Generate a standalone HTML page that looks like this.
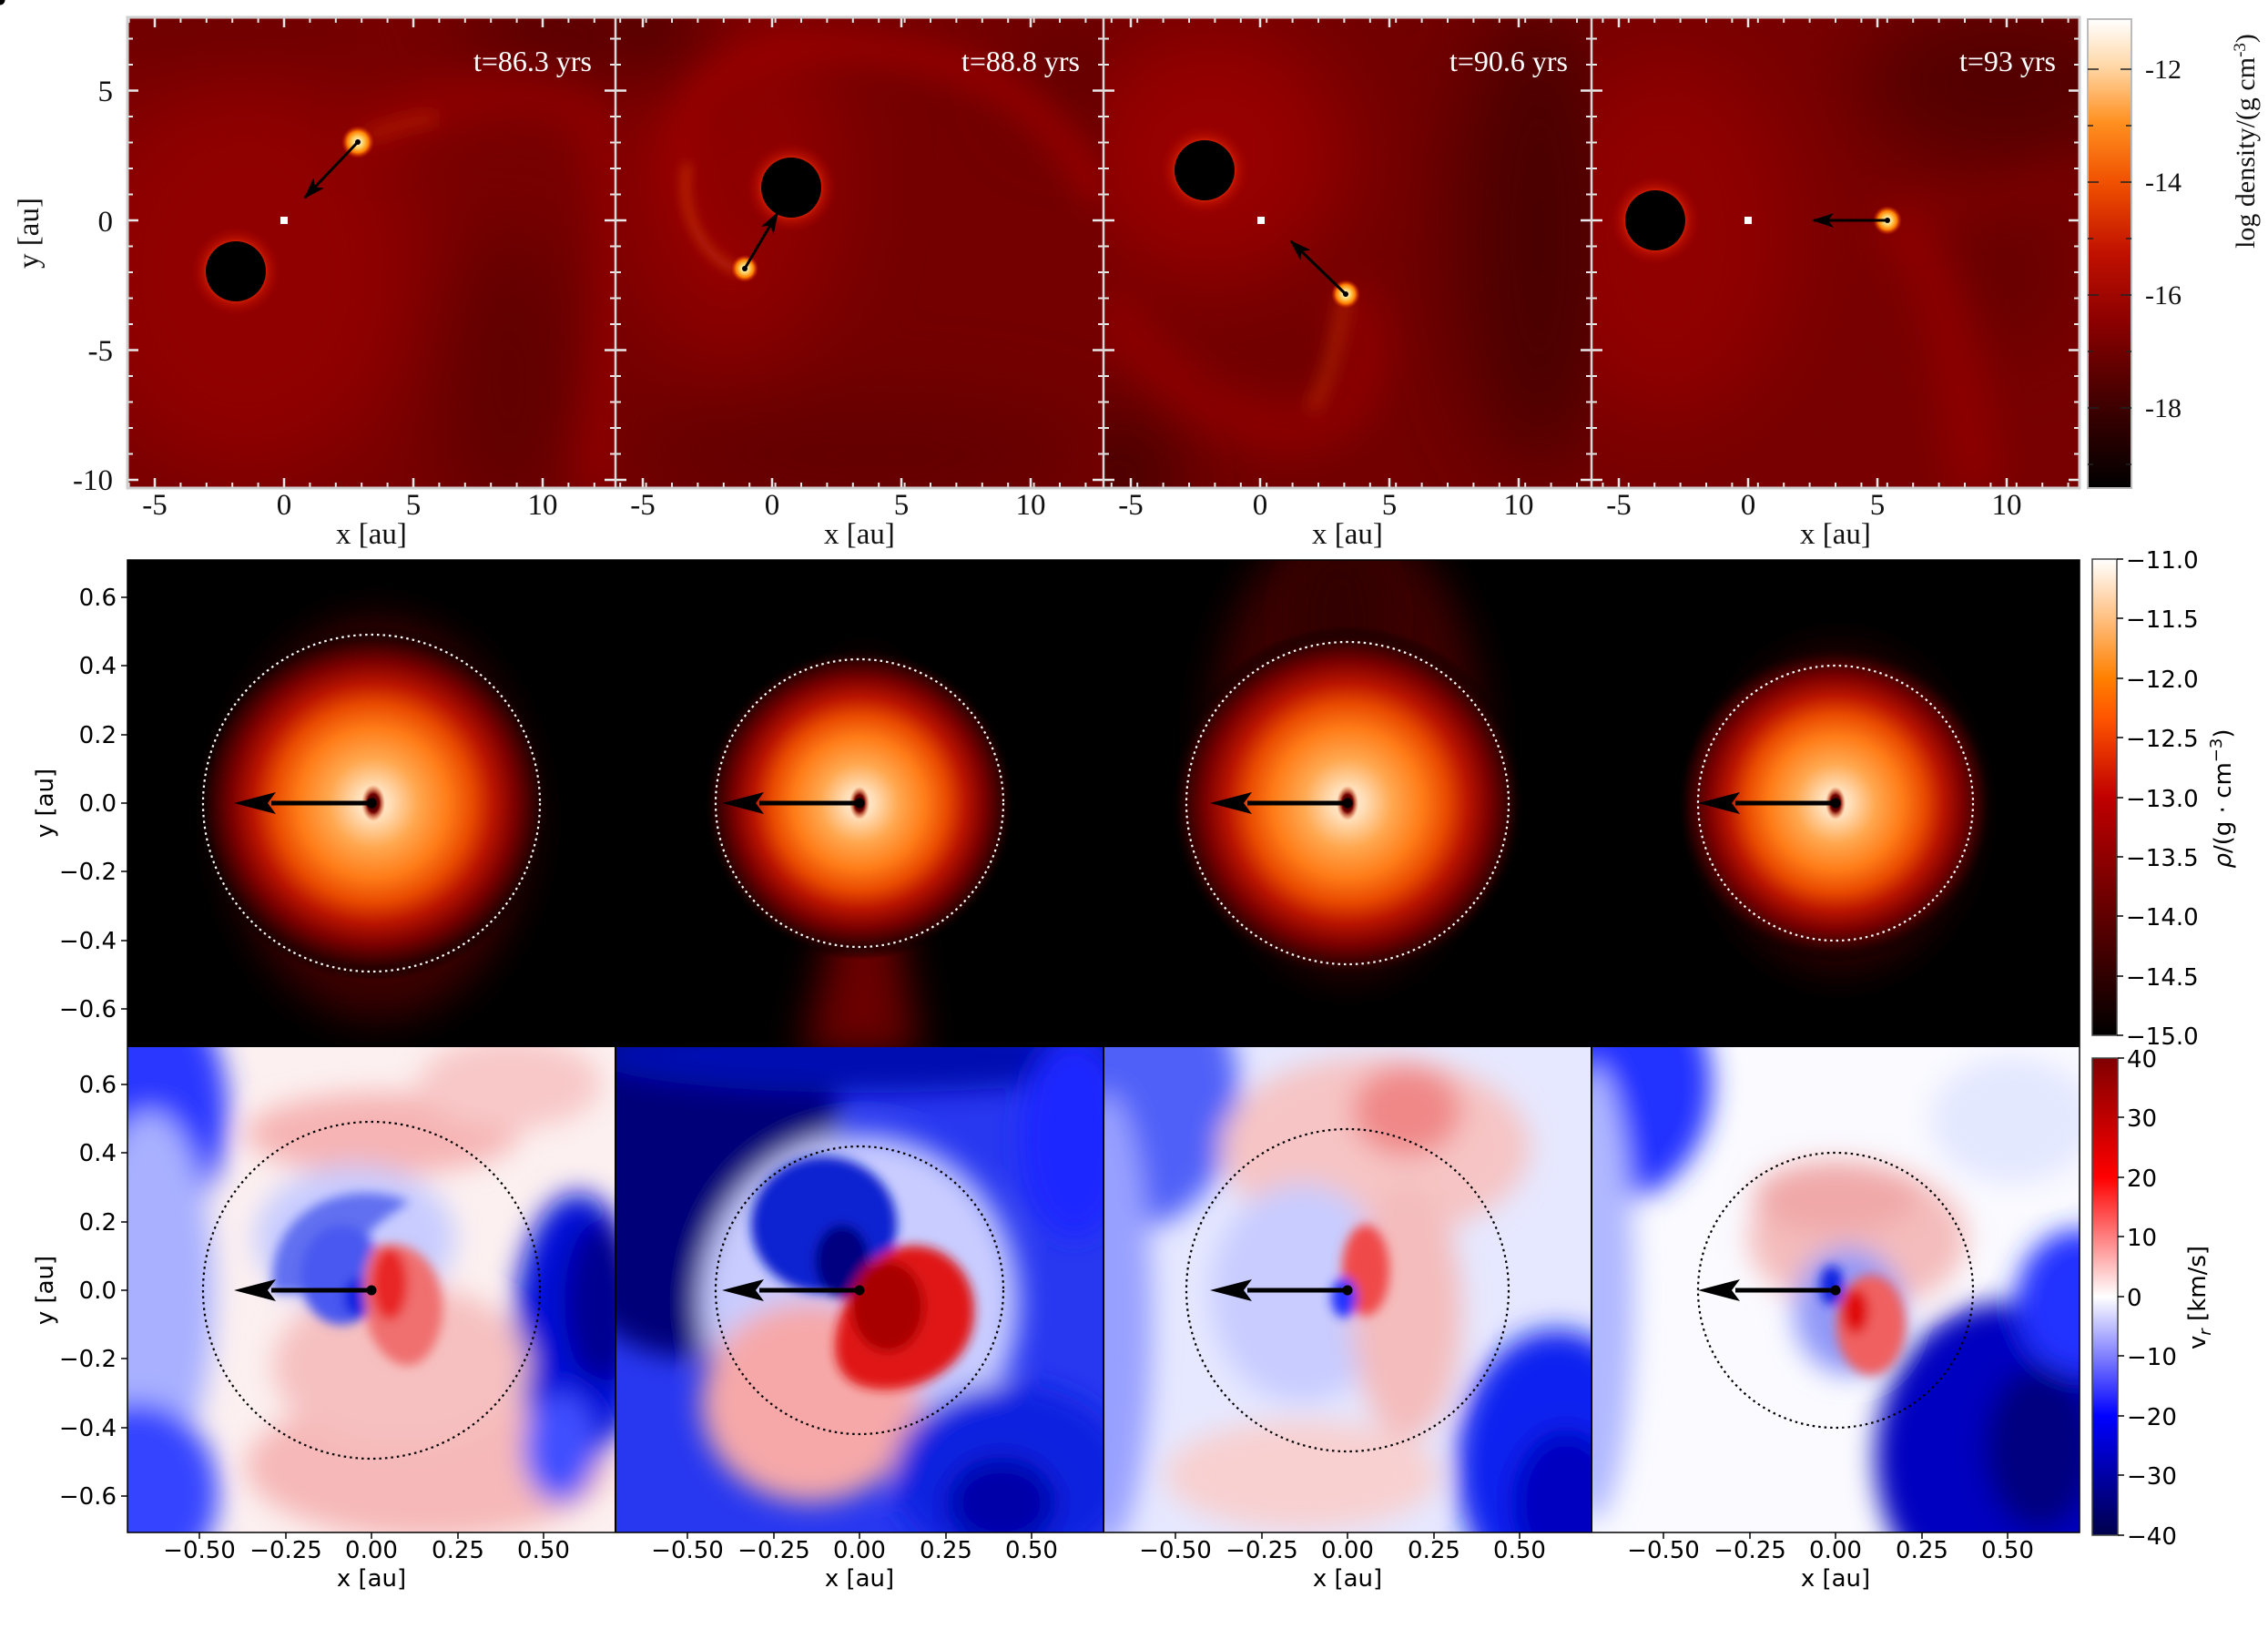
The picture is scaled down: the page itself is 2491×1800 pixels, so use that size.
<!DOCTYPE html>
<html><head><meta charset="utf-8"><style>
html,body{margin:0;padding:0;background:#fff;}
svg{display:block;}
.s{font-family:"Liberation Serif",serif;}
.d{font-family:"DejaVu Sans",sans-serif;}
</style></head><body>
<svg width="2491" height="1800" viewBox="0 0 2491 1800" xmlns="http://www.w3.org/2000/svg">
<defs>
  <filter id="b40" filterUnits="userSpaceOnUse" x="-500" y="-500" width="3500" height="3000"><feGaussianBlur stdDeviation="45"/></filter>
  <filter id="b22" filterUnits="userSpaceOnUse" x="-500" y="-500" width="3500" height="3000"><feGaussianBlur stdDeviation="22"/></filter>
  <filter id="b16" filterUnits="userSpaceOnUse" x="-500" y="-500" width="3500" height="3000"><feGaussianBlur stdDeviation="15"/></filter>
  <filter id="b10" filterUnits="userSpaceOnUse" x="-500" y="-500" width="3500" height="3000"><feGaussianBlur stdDeviation="9"/></filter>
  <filter id="b6" filterUnits="userSpaceOnUse" x="-500" y="-500" width="3500" height="3000"><feGaussianBlur stdDeviation="6"/></filter>
  <filter id="b4" filterUnits="userSpaceOnUse" x="-500" y="-500" width="3500" height="3000"><feGaussianBlur stdDeviation="4"/></filter>
  <radialGradient id="glow"><stop offset="0.62" stop-color="#e82800"/><stop offset="0.72" stop-color="#c01400" stop-opacity="0.7"/><stop offset="1" stop-color="#a00000" stop-opacity="0"/></radialGradient>
  <radialGradient id="blob"><stop offset="0" stop-color="#fff"/><stop offset="0.35" stop-color="#ffd060"/><stop offset="0.65" stop-color="#ff8000"/><stop offset="1" stop-color="#d02000" stop-opacity="0"/></radialGradient>
  <radialGradient id="disk"><stop offset="0" stop-color="#fff2e0"/><stop offset="0.1" stop-color="#ffdcb4"/><stop offset="0.25" stop-color="#ffa850"/><stop offset="0.42" stop-color="#ff7c18"/><stop offset="0.56" stop-color="#e84a00"/><stop offset="0.68" stop-color="#b81400"/><stop offset="0.8" stop-color="#7a0000"/><stop offset="0.92" stop-color="#2a0000"/><stop offset="1" stop-color="#000" stop-opacity="0"/></radialGradient>
  <radialGradient id="core"><stop offset="0" stop-color="#100000"/><stop offset="0.5" stop-color="#700000"/><stop offset="1" stop-color="#e04000" stop-opacity="0"/></radialGradient>
  <linearGradient id="cbTop" x1="0" y1="0" x2="0" y2="1"><stop offset="0" stop-color="#fff"/><stop offset="0.1" stop-color="#ffd8a8"/><stop offset="0.22" stop-color="#ff9020"/><stop offset="0.35" stop-color="#f05000"/><stop offset="0.5" stop-color="#c01000"/><stop offset="0.65" stop-color="#8a0000"/><stop offset="0.82" stop-color="#400000"/><stop offset="1" stop-color="#000"/></linearGradient>
  <linearGradient id="cbMid" x1="0" y1="0" x2="0" y2="1"><stop offset="0" stop-color="#fff"/><stop offset="0.125" stop-color="#ffbf80"/><stop offset="0.25" stop-color="#ff8000"/><stop offset="0.333" stop-color="#ff5500"/><stop offset="0.5" stop-color="#c00000"/><stop offset="0.75" stop-color="#600000"/><stop offset="1" stop-color="#000"/></linearGradient>
  <linearGradient id="cbBot" x1="0" y1="0" x2="0" y2="1"><stop offset="0" stop-color="#800000"/><stop offset="0.25" stop-color="#ff0000"/><stop offset="0.5" stop-color="#ffffff"/><stop offset="0.75" stop-color="#0000ff"/><stop offset="1" stop-color="#00004c"/></linearGradient>
  <clipPath id="cT0"><rect x="140" y="19" width="536" height="517"/></clipPath>
  <clipPath id="cT1"><rect x="676" y="19" width="536" height="517"/></clipPath>
  <clipPath id="cT2"><rect x="1212" y="19" width="536" height="517"/></clipPath>
  <clipPath id="cT3"><rect x="1748" y="19" width="536" height="517"/></clipPath>
  <clipPath id="cM"><rect x="140" y="615" width="2144" height="535"/></clipPath>
  <clipPath id="cB0"><rect x="140" y="1150" width="536" height="533"/></clipPath>
  <clipPath id="cB1"><rect x="676" y="1150" width="536" height="533"/></clipPath>
  <clipPath id="cB2"><rect x="1212" y="1150" width="536" height="533"/></clipPath>
  <clipPath id="cB3"><rect x="1748" y="1150" width="536" height="533"/></clipPath>
  <marker id="ah" viewBox="0 0 24 16" refX="22" refY="8" markerWidth="24" markerHeight="16" markerUnits="userSpaceOnUse" orient="auto"><path d="M0,0 L24,8 L0,16 L6,8 Z" fill="#000"/></marker>
  <pattern id="pxMin" patternUnits="userSpaceOnUse" x="312" y="0" width="28.4" height="10"><rect x="-1" y="0" width="2" height="10" fill="#e8e8e8"/><rect x="27.4" y="0" width="2" height="10" fill="#e8e8e8"/></pattern>
  <pattern id="pyMin" patternUnits="userSpaceOnUse" x="0" y="242" width="10" height="28.5"><rect x="0" y="-1" width="10" height="2" fill="#e8e8e8"/><rect x="0" y="27.5" width="10" height="2" fill="#e8e8e8"/></pattern>
</defs>

<!-- ===== TOP ROW ===== -->
<g clip-path="url(#cT0)">
  <rect x="140" y="19" width="536" height="517" fill="#780000"/>
  <g filter="url(#b40)">
    <ellipse cx="270" cy="300" rx="190" ry="220" fill="#900000"/>
    <ellipse cx="560" cy="420" rx="80" ry="170" fill="#600000"/>
    <ellipse cx="620" cy="40" rx="120" ry="60" fill="#580000"/>
    <ellipse cx="250" cy="40" rx="150" ry="40" fill="#680000"/>
  </g>
  <path d="M395,156 C470,110 560,85 640,120 C700,160 680,380 650,540" fill="none" stroke="#9a0400" stroke-width="50" stroke-opacity="0.7" filter="url(#b22)"/>
  <path d="M400,150 C430,140 460,130 480,130" fill="none" stroke="#c02800" stroke-width="10" stroke-opacity="0.7" filter="url(#b10)"/>
  <circle cx="259" cy="298" r="50" fill="url(#glow)"/>
  <circle cx="259" cy="298" r="33" fill="#000"/>
  <circle cx="393" cy="156" r="18" fill="url(#blob)"/>
  <rect x="308" y="238" width="8" height="8" fill="#fff"/>
  <line x1="393" y1="156" x2="335" y2="217" stroke="#000" stroke-width="3" marker-end="url(#ah)"/>
  <circle cx="393" cy="156" r="3" fill="#000"/>
  <text x="650" y="78" class="s" font-size="32" fill="#fff" text-anchor="end">t=86.3 yrs</text>
</g>
<g clip-path="url(#cT1)">
  <rect x="676" y="19" width="536" height="517" fill="#740000"/>
  <g filter="url(#b40)">
    <ellipse cx="800" cy="200" rx="130" ry="200" fill="#8e0000"/>
    <ellipse cx="720" cy="40" rx="70" ry="60" fill="#4a0000"/>
    <ellipse cx="950" cy="500" rx="260" ry="60" fill="#620000"/>
    <ellipse cx="1180" cy="80" rx="60" ry="60" fill="#600000"/>
  </g>
  <path d="M818,295 C760,280 730,180 760,120 C800,50 900,40 1000,60 C1100,80 1150,120 1212,220" fill="none" stroke="#9a0800" stroke-width="40" stroke-opacity="0.7" filter="url(#b16)"/>
  <path d="M815,298 C770,285 745,230 755,180" fill="none" stroke="#d04010" stroke-width="8" stroke-opacity="0.7" filter="url(#b6)"/>
  <circle cx="869" cy="206" r="50" fill="url(#glow)"/>
  <circle cx="869" cy="206" r="33" fill="#000"/>
  <circle cx="818" cy="295" r="15" fill="url(#blob)"/>
  <line x1="818" y1="295" x2="854" y2="234" stroke="#000" stroke-width="3" marker-end="url(#ah)"/>
  <circle cx="818" cy="295" r="3" fill="#000"/>
  <text x="1186" y="78" class="s" font-size="32" fill="#fff" text-anchor="end">t=88.8 yrs</text>
</g>
<g clip-path="url(#cT2)">
  <rect x="1212" y="19" width="536" height="517" fill="#720000"/>
  <g filter="url(#b40)">
    <ellipse cx="1330" cy="170" rx="150" ry="140" fill="#960000"/>
    <ellipse cx="1690" cy="260" rx="90" ry="260" fill="#4c0000"/>
    <ellipse cx="1230" cy="520" rx="60" ry="60" fill="#3a0000"/>
  </g>
  <path d="M1478,323 C1520,370 1500,470 1420,470 C1330,470 1260,400 1212,330" fill="none" stroke="#9a0600" stroke-width="50" stroke-opacity="0.7" filter="url(#b22)"/>
  <path d="M1478,323 C1470,370 1460,420 1440,450" fill="none" stroke="#c83800" stroke-width="10" stroke-opacity="0.7" filter="url(#b10)"/>
  <circle cx="1323" cy="187" r="50" fill="url(#glow)"/>
  <circle cx="1323" cy="187" r="33" fill="#000"/>
  <circle cx="1478" cy="323" r="16" fill="url(#blob)"/>
  <rect x="1381" y="238" width="8" height="8" fill="#fff"/>
  <line x1="1478" y1="323" x2="1418" y2="265" stroke="#000" stroke-width="3" marker-end="url(#ah)"/>
  <circle cx="1478" cy="323" r="3" fill="#000"/>
  <text x="1722" y="78" class="s" font-size="32" fill="#fff" text-anchor="end">t=90.6 yrs</text>
</g>
<g clip-path="url(#cT3)">
  <rect x="1748" y="19" width="536" height="517" fill="#780000"/>
  <g filter="url(#b40)">
    <ellipse cx="1830" cy="260" rx="140" ry="200" fill="#900000"/>
    <ellipse cx="2200" cy="90" rx="160" ry="90" fill="#520000"/>
    <ellipse cx="2200" cy="300" rx="70" ry="80" fill="#660000"/>
  </g>
  <path d="M2073,242 C2120,270 2150,360 2170,540" fill="none" stroke="#9a0400" stroke-width="50" stroke-opacity="0.7" filter="url(#b22)"/>
  <path d="M2073,242 C2120,230 2200,220 2284,190" fill="none" stroke="#8c0000" stroke-width="20" stroke-opacity="0.7" filter="url(#b22)"/>
  <circle cx="1818" cy="242" r="50" fill="url(#glow)"/>
  <circle cx="1818" cy="242" r="33" fill="#000"/>
  <circle cx="2073" cy="242" r="16" fill="url(#blob)"/>
  <rect x="1916" y="238" width="8" height="8" fill="#fff"/>
  <line x1="2073" y1="242" x2="1992" y2="242" stroke="#000" stroke-width="3" marker-end="url(#ah)"/>
  <circle cx="2073" cy="242" r="3" fill="#000"/>
  <text x="2258" y="78" class="s" font-size="32" fill="#fff" text-anchor="end">t=93 yrs</text>
</g>
<g>
  <rect x="140" y="19" width="2144" height="6" fill="url(#pxMin)"/>
  <rect x="140" y="530" width="2144" height="6" fill="url(#pxMin)"/>
  <rect x="140" y="19" width="6" height="517" fill="url(#pyMin)"/>
  <rect x="670" y="19" width="12" height="517" fill="url(#pyMin)"/>
  <rect x="1206" y="19" width="12" height="517" fill="url(#pyMin)"/>
  <rect x="1742" y="19" width="12" height="517" fill="url(#pyMin)"/>
  <rect x="2278" y="19" width="6" height="517" fill="url(#pyMin)"/>
  <g stroke="#e8e8e8" stroke-width="2.5">
    <path d="M170,19v11M312,19v11M454,19v11M596,19v11 M706,19v11M848,19v11M990,19v11M1132,19v11 M1242,19v11M1384,19v11M1526,19v11M1668,19v11 M1778,19v11M1920,19v11M2062,19v11M2204,19v11"/>
    <path d="M170,536v-11M312,536v-11M454,536v-11M596,536v-11 M706,536v-11M848,536v-11M990,536v-11M1132,536v-11 M1242,536v-11M1384,536v-11M1526,536v-11M1668,536v-11 M1778,536v-11M1920,536v-11M2062,536v-11M2204,536v-11"/>
    <path d="M140,99.5h12M140,242h12M140,384.5h12M140,527h12 M664,99.5h24M664,242h24M664,384.5h24M664,527h24 M1200,99.5h24M1200,242h24M1200,384.5h24M1200,527h24 M1736,99.5h24M1736,242h24M1736,384.5h24M1736,527h24 M2284,99.5h-12M2284,242h-12M2284,384.5h-12M2284,527h-12"/>
  </g>
  <rect x="140" y="19" width="2144" height="517" fill="none" stroke="#cfcfcf" stroke-width="3"/>
  <path d="M676,19v517M1212,19v517M1748,19v517" stroke="#d8d8d8" stroke-width="2.5"/>
</g>
<g class="s" font-size="33" fill="#111">
  <text x="124" y="111" text-anchor="end">5</text>
  <text x="124" y="254" text-anchor="end">0</text>
  <text x="124" y="396" text-anchor="end">-5</text>
  <text x="124" y="538" text-anchor="end">-10</text>
  <g text-anchor="middle">
    <text x="170" y="565">-5</text><text x="312" y="565">0</text><text x="454" y="565">5</text><text x="596" y="565">10</text>
    <text x="706" y="565">-5</text><text x="848" y="565">0</text><text x="990" y="565">5</text><text x="1132" y="565">10</text>
    <text x="1242" y="565">-5</text><text x="1384" y="565">0</text><text x="1526" y="565">5</text><text x="1668" y="565">10</text>
    <text x="1778" y="565">-5</text><text x="1920" y="565">0</text><text x="2062" y="565">5</text><text x="2204" y="565">10</text>
    <text x="408" y="597">x [au]</text><text x="944" y="597">x [au]</text><text x="1480" y="597">x [au]</text><text x="2016" y="597">x [au]</text>
  </g>
  <text transform="translate(42,256) rotate(-90)" text-anchor="middle">y [au]</text>
</g>

<!-- ===== MIDDLE ROW ===== -->
<g clip-path="url(#cM)">
  <rect x="140" y="615" width="2144" height="535" fill="#000"/>
  <ellipse cx="415" cy="900" rx="165" ry="220" fill="#3a0000" filter="url(#b22)"/>
  <circle cx="410" cy="882" r="195" fill="url(#disk)"/>
  <path d="M920,1000 C900,1080 890,1130 880,1160 L1010,1160 C1000,1100 990,1040 980,980 Z" fill="#6a0000" filter="url(#b22)"/>
  <ellipse cx="950" cy="820" rx="40" ry="90" fill="#400000" filter="url(#b22)"/>
  <circle cx="944" cy="882" r="172" fill="url(#disk)"/>
  <ellipse cx="1480" cy="820" rx="150" ry="250" fill="#3a0000" filter="url(#b22)"/>
  <ellipse cx="1470" cy="680" rx="50" ry="90" fill="#300000" filter="url(#b22)"/>
  <circle cx="1480" cy="882" r="195" fill="url(#disk)"/>
  <ellipse cx="2020" cy="890" rx="140" ry="175" fill="#300000" filter="url(#b22)"/>
  <circle cx="2016" cy="882" r="175" fill="url(#disk)"/>
  <ellipse cx="410" cy="882" rx="13" ry="20" fill="url(#core)"/>
  <ellipse cx="944" cy="882" rx="11" ry="18" fill="url(#core)"/>
  <ellipse cx="1480" cy="882" rx="12" ry="19" fill="url(#core)"/>
  <ellipse cx="2016" cy="882" rx="11" ry="18" fill="url(#core)"/>
  <g fill="none" stroke="#fff" stroke-width="2.2" stroke-dasharray="2.5 4">
    <circle cx="408" cy="882" r="185"/>
    <circle cx="944" cy="882" r="158"/>
    <circle cx="1480" cy="882" r="177"/>
    <circle cx="2016" cy="882" r="151"/>
  </g>
</g>

<!-- ===== BOTTOM ROW ===== -->
<g clip-path="url(#cB0)">
  <rect x="140" y="1150" width="536" height="533" fill="#fcf0f0"/>
  <g filter="url(#b16)">
    <ellipse cx="140" cy="1220" rx="110" ry="150" fill="#2a38ff"/>
    <ellipse cx="165" cy="1420" rx="70" ry="200" fill="#a8b0ff"/>
    <ellipse cx="150" cy="1640" rx="90" ry="100" fill="#3444ff"/>
    <ellipse cx="420" cy="1245" rx="150" ry="45" fill="#f6b4b4"/>
    <ellipse cx="560" cy="1190" rx="100" ry="50" fill="#f8c8c8"/>
    <ellipse cx="470" cy="1610" rx="200" ry="80" fill="#f6b8b8"/>
    <ellipse cx="635" cy="1460" rx="70" ry="150" fill="#0010d8"/>
    <ellipse cx="660" cy="1430" rx="40" ry="90" fill="#000090"/>
    <ellipse cx="615" cy="1590" rx="40" ry="60" fill="#4050ff"/>
    <ellipse cx="390" cy="1360" rx="110" ry="80" fill="#c8ccff"/>
    <ellipse cx="440" cy="1500" rx="140" ry="90" fill="#f6c0c0"/>
  </g>
  <g filter="url(#b6)">
    <path d="M300,1420 C290,1330 380,1290 450,1320 C420,1340 380,1360 390,1420 Z" fill="#6070f0"/>
    <ellipse cx="375" cy="1400" rx="45" ry="55" fill="#4858f0"/>
    <ellipse cx="395" cy="1425" rx="18" ry="22" fill="#1020e0"/>
    <path d="M410,1370 C470,1350 500,1420 480,1470 C460,1520 420,1500 405,1460 C400,1420 395,1400 410,1370 Z" fill="#f07070"/>
    <ellipse cx="428" cy="1410" rx="20" ry="40" fill="#e82828"/>
  </g>
</g>
<g clip-path="url(#cB1)">
  <rect x="676" y="1150" width="536" height="533" fill="#2838f0"/>
  <g filter="url(#b16)">
    <ellipse cx="750" cy="1250" rx="170" ry="240" fill="#000078"/>
    <ellipse cx="950" cy="1160" rx="300" ry="40" fill="#0010b0"/>
    <ellipse cx="1180" cy="1250" rx="60" ry="110" fill="#1a28ff"/>
    <ellipse cx="945" cy="1430" rx="175" ry="185" fill="#c8ccff"/>
    <ellipse cx="890" cy="1540" rx="120" ry="110" fill="#f6a8a8"/>
    <ellipse cx="1110" cy="1620" rx="130" ry="100" fill="#1020e0"/>
    <ellipse cx="1100" cy="1650" rx="60" ry="50" fill="#0000a8"/>
  </g>
  <g filter="url(#b6)">
    <ellipse cx="905" cy="1345" rx="80" ry="75" fill="#1020d0"/>
    <ellipse cx="925" cy="1385" rx="30" ry="40" fill="#000080"/>
    <path d="M944,1400 C990,1340 1070,1370 1070,1440 C1070,1510 990,1540 940,1520 C900,1500 920,1440 944,1400 Z" fill="#e01818"/>
    <ellipse cx="975" cy="1435" rx="40" ry="50" fill="#a80000"/>
  </g>
</g>
<g clip-path="url(#cB2)">
  <rect x="1212" y="1150" width="536" height="533" fill="#e6e8ff"/>
  <g filter="url(#b16)">
    <ellipse cx="1240" cy="1200" rx="120" ry="150" fill="#5060f8"/>
    <ellipse cx="1215" cy="1450" rx="50" ry="250" fill="#98a0ff"/>
    <ellipse cx="1510" cy="1260" rx="170" ry="100" fill="#f6c4c4"/>
    <ellipse cx="1545" cy="1220" rx="60" ry="50" fill="#f08888"/>
    <ellipse cx="1430" cy="1420" rx="100" ry="120" fill="#c8ccff"/>
    <ellipse cx="1545" cy="1440" rx="60" ry="140" fill="#f4bcbc"/>
    <ellipse cx="1710" cy="1610" rx="110" ry="150" fill="#1020f0"/>
    <ellipse cx="1720" cy="1650" rx="60" ry="80" fill="#0000c0"/>
    <ellipse cx="1430" cy="1620" rx="150" ry="60" fill="#f8d0d0"/>
  </g>
  <g filter="url(#b6)">
    <ellipse cx="1500" cy="1395" rx="26" ry="50" fill="#f04848"/>
    <ellipse cx="1476" cy="1425" rx="14" ry="22" fill="#2030ff"/>
  </g>
</g>
<g clip-path="url(#cB3)">
  <rect x="1748" y="1150" width="536" height="533" fill="#fafaff"/>
  <g filter="url(#b16)">
    <ellipse cx="1770" cy="1190" rx="110" ry="130" fill="#2030ff"/>
    <ellipse cx="1750" cy="1420" rx="45" ry="250" fill="#b0b8ff"/>
    <ellipse cx="2040" cy="1360" rx="120" ry="80" fill="#f4bcbc"/>
    <ellipse cx="2016" cy="1315" rx="90" ry="40" fill="#f0a8a8"/>
    <ellipse cx="2200" cy="1600" rx="140" ry="170" fill="#0000c0"/>
    <ellipse cx="2240" cy="1590" rx="60" ry="90" fill="#000080"/>
    <ellipse cx="2284" cy="1430" rx="70" ry="80" fill="#2030ff"/>
    <ellipse cx="2210" cy="1230" rx="90" ry="70" fill="#e4e8ff"/>
    <ellipse cx="2030" cy="1440" rx="60" ry="70" fill="#9098f8"/>
  </g>
  <g filter="url(#b6)">
    <ellipse cx="2055" cy="1455" rx="38" ry="55" fill="#f06060"/>
    <ellipse cx="2038" cy="1440" rx="15" ry="25" fill="#e01010"/>
    <ellipse cx="2012" cy="1412" rx="13" ry="22" fill="#1020e0"/>
  </g>
</g>
<g fill="none" stroke="#000" stroke-width="2.2" stroke-dasharray="2.5 4">
  <circle cx="408" cy="1417" r="185"/>
  <circle cx="944" cy="1417" r="158"/>
  <circle cx="1480" cy="1417" r="177"/>
  <circle cx="2016" cy="1417" r="151"/>
</g>
<path d="M676,1150v533M1212,1150v533M1748,1150v533" stroke="#000" stroke-width="2"/>
<rect x="140" y="615" width="2144" height="1068" fill="none" stroke="#000" stroke-width="1.5"/>
<g fill="#000">
  <g id="arr">
    <rect x="-110" y="-2.5" width="110" height="5"/>
    <path d="M-151,0 L-105,-12 L-114,0 L-105,12 Z"/>
    <circle cx="0" cy="0" r="5.5"/>
  </g>
</g>
<use href="#arr" transform="translate(408,882)"/>
<use href="#arr" transform="translate(944,882)"/>
<use href="#arr" transform="translate(1480,882)"/>
<use href="#arr" transform="translate(2016,882)"/>
<use href="#arr" transform="translate(408,1417)"/>
<use href="#arr" transform="translate(944,1417)"/>
<use href="#arr" transform="translate(1480,1417)"/>
<use href="#arr" transform="translate(2016,1417)"/>

<g stroke="#000" stroke-width="1.5">
  <path d="M140,656h-7M140,731h-7M140,807h-7M140,882h-7M140,957h-7M140,1033h-7M140,1108h-7"/>
  <path d="M140,1191h-7M140,1266h-7M140,1342h-7M140,1417h-7M140,1492h-7M140,1568h-7M140,1643h-7"/>
  <path d="M219,1683v7M314,1683v7M408,1683v7M503,1683v7M597,1683v7 M755,1683v7M850,1683v7M944,1683v7M1039,1683v7M1133,1683v7 M1291,1683v7M1386,1683v7M1480,1683v7M1575,1683v7M1669,1683v7 M1827,1683v7M1922,1683v7M2016,1683v7M2111,1683v7M2205,1683v7"/>
</g>
<g class="d" font-size="26" fill="#000">
  <g text-anchor="end">
    <text x="128" y="665">0.6</text><text x="128" y="740">0.4</text><text x="128" y="816">0.2</text><text x="128" y="891">0.0</text>
    <text x="128" y="966">−0.2</text><text x="128" y="1042">−0.4</text><text x="128" y="1117">−0.6</text>
    <text x="128" y="1200">0.6</text><text x="128" y="1275">0.4</text><text x="128" y="1351">0.2</text><text x="128" y="1426">0.0</text>
    <text x="128" y="1501">−0.2</text><text x="128" y="1577">−0.4</text><text x="128" y="1652">−0.6</text>
  </g>
  <g text-anchor="middle">
    <text x="219" y="1711">−0.50</text><text x="314" y="1711">−0.25</text><text x="408" y="1711">0.00</text><text x="503" y="1711">0.25</text><text x="597" y="1711">0.50</text>
    <text x="755" y="1711">−0.50</text><text x="850" y="1711">−0.25</text><text x="944" y="1711">0.00</text><text x="1039" y="1711">0.25</text><text x="1133" y="1711">0.50</text>
    <text x="1291" y="1711">−0.50</text><text x="1386" y="1711">−0.25</text><text x="1480" y="1711">0.00</text><text x="1575" y="1711">0.25</text><text x="1669" y="1711">0.50</text>
    <text x="1827" y="1711">−0.50</text><text x="1922" y="1711">−0.25</text><text x="2016" y="1711">0.00</text><text x="2111" y="1711">0.25</text><text x="2205" y="1711">0.50</text>
    <text x="408" y="1742">x [au]</text><text x="944" y="1742">x [au]</text><text x="1480" y="1742">x [au]</text><text x="2016" y="1742">x [au]</text>
  </g>
  <text transform="translate(58,882) rotate(-90)" text-anchor="middle">y [au]</text>
  <text transform="translate(58,1417) rotate(-90)" text-anchor="middle">y [au]</text>
</g>

<!-- ===== COLORBARS ===== -->
<rect x="2293" y="21" width="48" height="515" fill="url(#cbTop)" stroke="#bbb" stroke-width="2"/>
<g stroke="#222" stroke-width="1.5">
  <path d="M2293,76h12M2293,200h12M2293,324h12M2293,448h12M2341,76h-12M2341,200h-12M2341,324h-12M2341,448h-12"/>
  <path d="M2293,138h6M2293,262h6M2293,386h6M2293,510h6M2341,138h-6M2341,262h-6M2341,386h-6M2341,510h-6"/>
</g>
<g class="s" font-size="30" fill="#111">
  <text x="2356" y="86">-12</text><text x="2356" y="210">-14</text><text x="2356" y="334">-16</text><text x="2356" y="458">-18</text>
  <text transform="translate(2476,155) rotate(-90)" text-anchor="middle">log density/(g cm<tspan font-size="19" dy="-10">-3</tspan><tspan dy="10">)</tspan></text>
</g>

<rect x="2298" y="614" width="27" height="523" fill="url(#cbMid)" stroke="#444" stroke-width="1.5"/>
<g stroke="#000" stroke-width="1.5">
  <path d="M2325,614h7M2325,679h7M2325,745h7M2325,810h7M2325,876h7M2325,941h7M2325,1006h7M2325,1072h7M2325,1137h7"/>
</g>
<g class="d" font-size="26" fill="#000">
  <text x="2335" y="624">−11.0</text><text x="2335" y="689">−11.5</text><text x="2335" y="755">−12.0</text><text x="2335" y="820">−12.5</text>
  <text x="2335" y="886">−13.0</text><text x="2335" y="951">−13.5</text><text x="2335" y="1016">−14.0</text><text x="2335" y="1082">−14.5</text><text x="2335" y="1147">−15.0</text>
  <text transform="translate(2450,877) rotate(-90)" text-anchor="middle"><tspan font-style="italic">ρ</tspan>/(g · cm<tspan font-size="18" dy="-10">−3</tspan><tspan dy="10">)</tspan></text>
</g>

<rect x="2298" y="1162" width="28" height="524" fill="url(#cbBot)" stroke="#444" stroke-width="1.5"/>
<g stroke="#000" stroke-width="1.5">
  <path d="M2326,1162h7M2326,1227h7M2326,1293h7M2326,1358h7M2326,1424h7M2326,1489h7M2326,1555h7M2326,1620h7M2326,1686h7"/>
</g>
<g class="d" font-size="26" fill="#000">
  <text x="2336" y="1172">40</text><text x="2336" y="1237">30</text><text x="2336" y="1303">20</text><text x="2336" y="1368">10</text>
  <text x="2336" y="1434">0</text><text x="2336" y="1499">−10</text><text x="2336" y="1565">−20</text><text x="2336" y="1630">−30</text><text x="2336" y="1696">−40</text>
  <text transform="translate(2422,1425) rotate(-90)" text-anchor="middle">v<tspan font-size="18" dy="6" font-style="italic">r</tspan><tspan dy="-6"> [km/s]</tspan></text>
</g>
</svg>
</body></html>
